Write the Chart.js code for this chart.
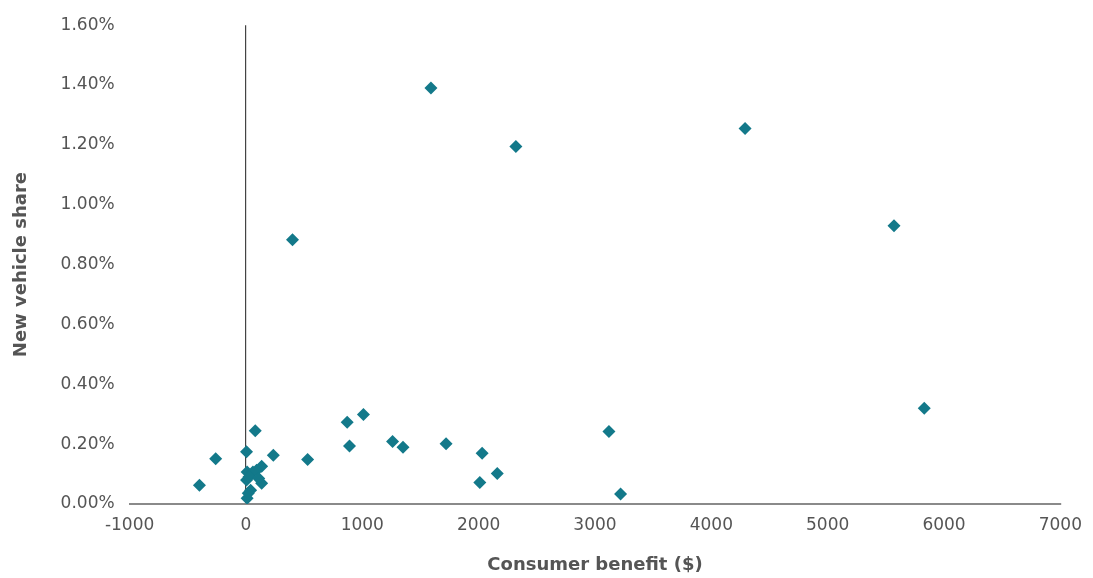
<!DOCTYPE html>
<html>
<head>
<meta charset="utf-8">
<script src="https://cdn.jsdelivr.net/npm/chart.js@4"></script>
<style>
  html, body { margin: 0; padding: 0; background: #fff; }
  #wrap { width: 1093px; height: 578px; }
</style>
</head>
<body>
<div id="wrap"><canvas id="scatter-chart"></canvas></div>
<script>
// DATA
const consumerBenefit = [
    1590, 2320, 4290, 5570, 5830, 400, 3120, 3220,
    870, 1010, 890, 1260, 1350, 1720, 2030, 2160, 2010,
    530, 235, 80, -260, -400,
    5, 135, 10, 60, 92, 135, 5, 40, 10, 20, 25, 110
];
const vehicleShare = [
    1.39, 1.195, 1.255, 0.93, 0.32, 0.883, 0.242, 0.033,
    0.273, 0.299, 0.194, 0.209, 0.19, 0.201, 0.17, 0.102, 0.072,
    0.149, 0.163, 0.245, 0.151, 0.063,
    0.175, 0.126, 0.107, 0.107, 0.113, 0.069, 0.08, 0.046, 0.019, 0.036, 0.09, 0.085
];
const xTicks = [-1000, 0, 1000, 2000, 3000, 4000, 5000, 6000, 7000];
const yTicks = [0, 0.2, 0.4, 0.6, 0.8, 1.0, 1.2, 1.4, 1.6];

const points = consumerBenefit.map((x, i) => ({ x: x, y: vehicleShare[i] }));
const tickFont = { family: "DejaVu Sans", size: 17 };
const titleFont = { family: "DejaVu Sans", size: 18, weight: "bold" };

const chartCanvas = new Chart(document.getElementById("scatter-chart"), {
    type: "scatter",
    data: {
        datasets: [
            {
                data: points,
                pointStyle: "rectRot",
                pointRadius: 6.5,
                pointHoverRadius: 6.5,
                backgroundColor: "#13798a",
                borderColor: "#13798a",
                borderWidth: 0,
            },
        ],
    },
    options: {
        responsive: true,
        maintainAspectRatio: false,
        animation: false,
        layout: { padding: { left: 11, right: 31, top: 10, bottom: 2 } },
        plugins: {
            legend: { display: false },
            tooltip: { enabled: false },
        },
        scales: {
            x: {
                type: "linear",
                min: xTicks[0],
                max: xTicks[xTicks.length - 1],
                afterBuildTicks: (scale) => {
                    scale.ticks = xTicks.map((v) => ({ value: v }));
                },
                ticks: {
                    color: "#555",
                    font: tickFont,
                    padding: 11,
                    maxRotation: 0,
                    callback: (v) => String(v),
                },
                grid: {
                    drawTicks: false,
                    color: (ctx) => (ctx.tick && ctx.tick.value === 0 ? "#444" : "transparent"),
                    lineWidth: 1.2,
                },
                border: { display: true, color: "#8a8a8a", width: 2 },
                title: {
                    display: true,
                    text: "Consumer benefit ($)",
                    color: "#555",
                    font: titleFont,
                    padding: { top: 8, bottom: 0 },
                },
            },
            y: {
                type: "linear",
                min: yTicks[0],
                max: yTicks[yTicks.length - 1],
                afterBuildTicks: (scale) => {
                    scale.ticks = yTicks.map((v) => ({ value: v }));
                },
                ticks: {
                    color: "#555",
                    font: tickFont,
                    padding: 15,
                    callback: (v) => v.toFixed(2) + "%",
                },
                grid: { display: false, drawTicks: false },
                border: { display: false },
                title: {
                    display: true,
                    text: "New vehicle share",
                    color: "#555",
                    font: titleFont,
                    padding: { top: 0, bottom: 13 },
                },
            },
        },
    },
});
</script>
</body>
</html>
